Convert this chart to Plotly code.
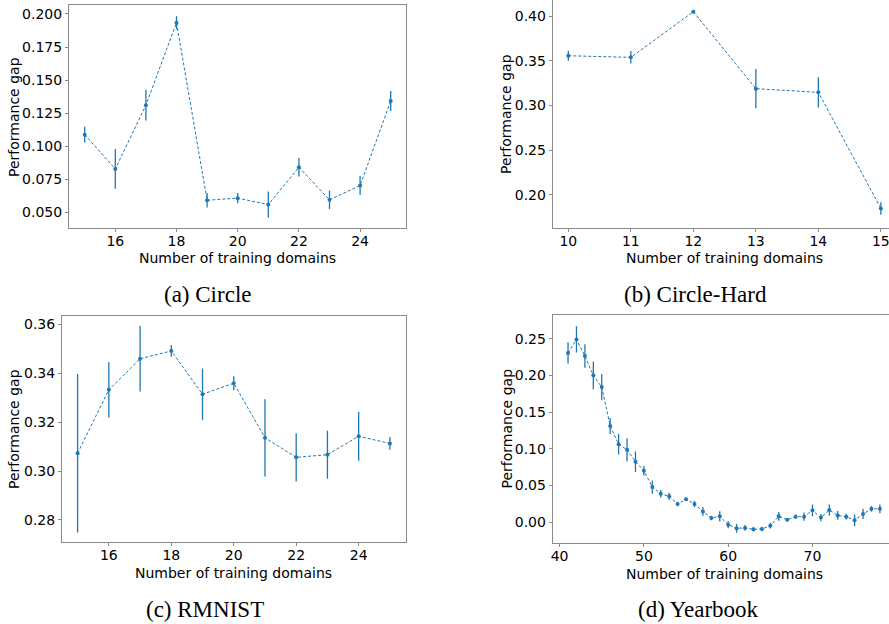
import plotly.graph_objects as go

# ---- data ----
circle_x = [15, 16, 17, 18, 19, 20, 21, 22, 23, 24, 25]
circle_y = [0.1087, 0.0828, 0.1310, 0.1934, 0.0591, 0.0607, 0.0558, 0.0841, 0.0594, 0.0702, 0.1342]
circle_err = [0.0060, 0.0150, 0.0116, 0.0050, 0.0054, 0.0038, 0.0100, 0.0070, 0.0070, 0.0072, 0.0076]

hard_x = [10, 11, 12, 13, 14, 15]
hard_y = [0.3556, 0.3538, 0.4048, 0.3188, 0.3147, 0.1850]
hard_err = [0.0056, 0.0070, 0.0012, 0.0220, 0.0170, 0.0070]

rmnist_x = [15, 16, 17, 18, 19, 20, 21, 22, 23, 24, 25]
rmnist_y = [0.3073, 0.3332, 0.3459, 0.3491, 0.3314, 0.3359, 0.3136, 0.3056, 0.3067, 0.3142, 0.3113]
rmnist_err = [0.0324, 0.0113, 0.0134, 0.0024, 0.0105, 0.0029, 0.0158, 0.0099, 0.0098, 0.0100, 0.0026]

year_x = list(range(41, 79))
year_y = [0.2305, 0.2490, 0.2264, 0.2000, 0.1840, 0.1310, 0.1060, 0.0986, 0.0823, 0.0700,
          0.0477, 0.0386, 0.0350, 0.0245, 0.0310, 0.0245, 0.0145, 0.0055, 0.0077, -0.0036,
          -0.0086, -0.0080, -0.0100, -0.0095, -0.0050, 0.0077, 0.0030, 0.0073, 0.0073, 0.0160,
          0.0060, 0.0164, 0.0090, 0.0073, 0.0023, 0.0110, 0.0180, 0.0180]
year_err = [0.0145, 0.0180, 0.0160, 0.0190, 0.0180, 0.0110, 0.0140, 0.0157, 0.0140, 0.0064,
            0.0090, 0.0050, 0.0050, 0.0030, 0.0020, 0.0045, 0.0060, 0.0030, 0.0070, 0.0050,
            0.0060, 0.0040, 0.0030, 0.0030, 0.0040, 0.0060, 0.0020, 0.0030, 0.0057, 0.0080,
            0.0050, 0.0075, 0.0060, 0.0040, 0.0080, 0.0070, 0.0040, 0.0060]

captions = ["(a) Circle", "(b) Circle-Hard", "(c) RMNIST", "(d) Yearbook"]
x_title = "Number of training domains"
y_title = "Performance gap"

BLUE = "#1f77b4"
W, H = 889, 624

fig = go.Figure()

panels = [
    (circle_x, circle_y, circle_err),
    (hard_x, hard_y, hard_err),
    (rmnist_x, rmnist_y, rmnist_err),
    (year_x, year_y, year_err),
]
for i, (xs, ys, es) in enumerate(panels):
    sfx = "" if i == 0 else str(i + 1)
    fig.add_trace(go.Scatter(
        x=xs, y=ys, mode="lines+markers", cliponaxis=False,
        line=dict(color=BLUE, width=1, dash="3px,2px"),
        marker=dict(color=BLUE, size=4, symbol="circle"),
        error_y=dict(type="data", array=es, color=BLUE, thickness=1.3, width=0),
        xaxis="x" + sfx, yaxis="y" + sfx, showlegend=False,
    ))

def px_x(a, b):
    return [a / W, b / W]

def px_y(top, bottom):
    return [1 - bottom / H, 1 - top / H]

tick_font = dict(family="DejaVu Sans", size=14, color="black")
title_font = dict(family="DejaVu Sans", size=14, color="black")
spine = "#8a8a8a"

def xax(domain, rng, dtick, tick0, anchor):
    return dict(domain=domain, range=rng, dtick=dtick, tick0=tick0, anchor=anchor,
                automargin=False, ticklabeloverflow="allow",
                showgrid=False, zeroline=False, showline=True, linecolor=spine, linewidth=1,
                mirror=True, ticks="outside", ticklen=3, tickcolor=spine,
                ticklabelstandoff=-3, tickfont=tick_font)

def yax(domain, rng, dtick, tick0, fmt, anchor, mirror=True):
    return dict(domain=domain, range=rng, dtick=dtick, tick0=tick0, tickformat=fmt, anchor=anchor,
                automargin=False,
                showgrid=False, zeroline=False, showline=True, linecolor=spine, linewidth=1,
                mirror=mirror, ticks="outside", ticklen=3, tickcolor=spine,
                tickfont=tick_font)

fig.update_layout(
    width=W, height=H, margin=dict(l=0, r=0, t=0, b=0, autoexpand=False),
    paper_bgcolor="white", plot_bgcolor="white",
    xaxis=xax(px_x(69, 406), [14.487, 25.5], 2, 0, "y"),
    yaxis=yax(px_y(5, 228), [0.0381, 0.2068], 0.025, 0, ".3f", "x"),
    xaxis2=xax(px_x(552.7, 889), [9.75, 15.13], 1, 0, "y2"),
    yaxis2=yax(px_y(0, 228), [0.1631, 0.4179], 0.05, 0, ".2f", "x2", mirror=False),
    xaxis3=xax(px_x(62, 405.5), [14.5, 25.5], 2, 0, "y3"),
    yaxis3=yax(px_y(315.7, 542), [0.271, 0.3635], 0.02, 0, ".2f", "x3"),
    xaxis4=xax(px_x(552.7, 889), [39.18, 79.08], 10, 0, "y4"),
    yaxis4=yax(px_y(315, 542.7), [-0.0282, 0.2823], 0.05, 0, ".2f", "x4", mirror=False),
)

def ann(text, cx, cy, font, angle=0):
    fig.add_annotation(text=text, x=cx / W, y=1 - cy / H, xref="paper", yref="paper",
                       showarrow=False, xanchor="center", yanchor="middle",
                       textangle=angle, font=font, borderpad=0)

# axis titles
for cx, cy in [(237.5, 258), (724.5, 258), (233.8, 573), (724.5, 574)]:
    ann(x_title, cx, cy, title_font)
for cx, cy in [(14, 117), (506, 114), (14, 429), (506.5, 429)]:
    ann(y_title, cx, cy, title_font, angle=-90)

# captions
cap_font = dict(family="Liberation Serif", size=23, color="black")
for txt, (cx, cy) in zip(captions, [(207, 294), (695, 294), (205, 609), (698, 609)]):
    ann(txt, cx, cy, cap_font)

fig.write_html("out.html", config={"displayModeBar": False},
               post_script="document.body.style.margin='0';document.body.style.overflow='hidden';")
